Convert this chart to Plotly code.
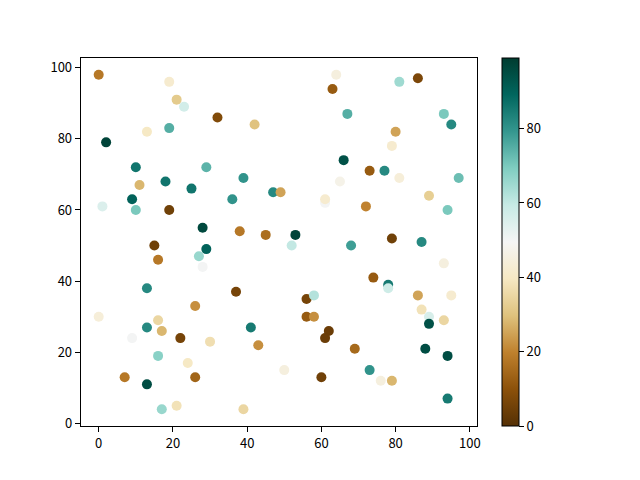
import plotly.graph_objects as go

xs = [0, 2, 1, 9, 10, 10, 11, 13, 19, 21, 23, 19, 32, 42, 18, 19, 25, 28, 29, 29,
      36, 39, 27, 28, 15, 16, 38, 45, 47, 49, 52, 53, 64, 63, 81, 86, 67, 93, 95, 80,
      79, 66, 73, 77, 81, 97, 65, 89, 61, 61, 72, 94, 79, 87, 68, 13, 37, 26, 0, 16,
      17, 13, 41, 9, 22, 30, 43, 16, 24, 7, 26, 13, 17, 21, 39, 50, 93, 74, 78, 78,
      56, 58, 86, 95, 87, 89, 89, 93, 56, 58, 62, 61, 69, 88, 94, 73, 60, 76, 79, 94]
ys = [98, 79, 61, 63, 72, 60, 67, 82, 96, 91, 89, 83, 86, 84, 68, 60, 66, 55, 49, 72,
      63, 69, 47, 44, 50, 46, 54, 53, 65, 65, 50, 53, 98, 94, 96, 97, 87, 87, 84, 82,
      78, 74, 71, 71, 69, 69, 68, 64, 62, 63, 61, 60, 52, 51, 50, 38, 37, 33, 30, 29,
      26, 27, 27, 24, 24, 23, 22, 19, 17, 13, 13, 11, 4, 5, 4, 15, 45, 41, 39, 38,
      35, 36, 36, 36, 32, 30, 28, 29, 30, 30, 26, 24, 21, 21, 19, 15, 13, 12, 12, 7]
colors = [18, 97, 55, 90, 86, 70, 28, 40, 42, 32, 57, 75, 8, 30, 86, 5, 86, 96, 90, 74,
          80, 80, 66, 50, 5, 18, 18, 16, 82, 25, 60, 97, 45, 12, 65, 7, 75, 70, 82, 25,
          42, 94, 12, 82, 44, 72, 47, 33, 50, 42, 20, 70, 5, 82, 78, 82, 6, 22, 44, 35,
          28, 82, 85, 50, 6, 37, 22, 68, 40, 18, 14, 95, 66, 38, 35, 45, 45, 12, 85, 58,
          6, 62, 25, 42, 38, 56, 94, 35, 12, 22, 4, 4, 15, 95, 95, 80, 5, 45, 28, 85]

# page body has an 8px margin, so the figure is 16px smaller and shifted
W, H, OFF = 624, 464, 8

font = dict(family="Noto Sans CJK SC, DejaVu Sans", size=13, color="black")

fig = go.Figure(go.Scatter(
    x=xs, y=ys, mode="markers",
    marker=dict(
        size=10, color=colors, colorscale="BrBG", cmin=0, cmax=99,
        line=dict(width=0),
        colorbar=dict(
            x=(502 - OFF) / W, xanchor="left", thickness=17, xpad=0, ypad=0,
            y=1 - (58 - OFF) / H, yanchor="top", len=(426 - 58) / H, lenmode="fraction",
            outlinewidth=1, outlinecolor="black",
            tickvals=[0, 20, 40, 60, 80], ticks="outside", ticklen=5,
            tickcolor="black", tickfont=font,
        ),
    ),
))

axis = dict(showgrid=False, zeroline=False, showline=True, linecolor="black",
            linewidth=1, mirror=True, ticks="outside", ticklen=5,
            tickcolor="black", tickfont=font)

fig.update_layout(
    width=W, height=H, margin=dict(l=0, r=0, t=0, b=0, autoexpand=False),
    plot_bgcolor="white", paper_bgcolor="white", showlegend=False,
    xaxis=dict(axis, range=[-4.85, 101.85], tickvals=[0, 20, 40, 60, 80, 100],
               domain=[(80.7 - OFF) / W, (476.7 - OFF) / W]),
    yaxis=dict(axis, range=[-0.7, 102.7], tickvals=[0, 20, 40, 60, 80, 100],
               domain=[1 - (426 - OFF) / H, 1 - (58 - OFF) / H]),
)

fig.write_html("out.html")
